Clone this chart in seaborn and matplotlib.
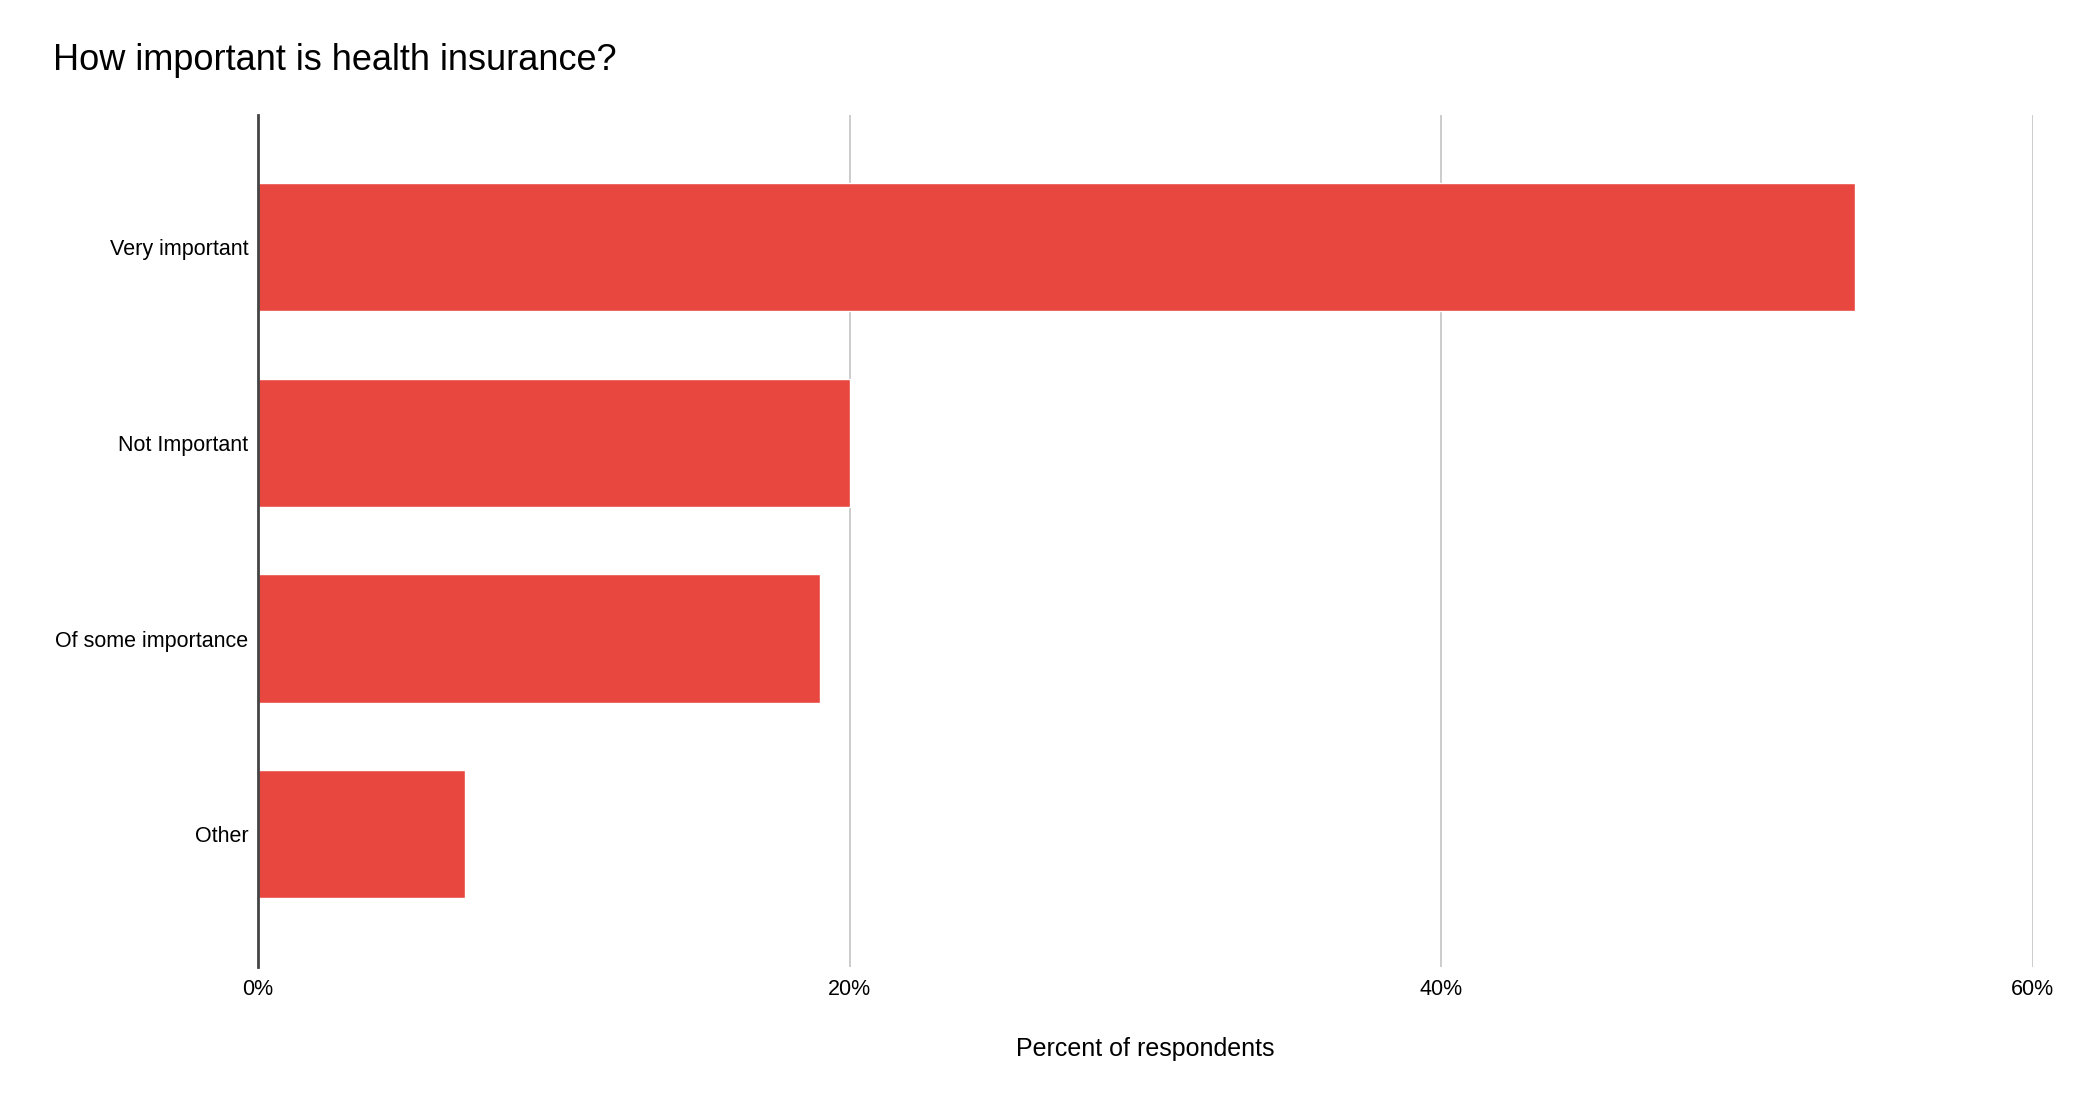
import matplotlib
matplotlib.use("Agg")
import matplotlib.pyplot as plt
import seaborn as sns
import pandas as pd
from matplotlib.ticker import FuncFormatter

categories = ["Very important", "Not Important", "Of some importance", "Other"]
percents = [54.0, 20.0, 19.0, 7.0]
x_ticks = [0, 20, 40, 60]

df = pd.DataFrame({"category": categories, "percent": percents})

sns.set_theme(style="white")
plt.rcParams['font.family'] = ['Liberation Sans', 'DejaVu Sans']

fig = plt.figure(figsize=(20.78, 11.04), dpi=100)
ax = fig.add_axes([0.1242, 0.1241, 0.9782 - 0.1242, 0.8958 - 0.1241])

sns.barplot(data=df, x="percent", y="category", color="#E8473F", saturation=1,
            width=0.655, ax=ax, zorder=3)

ax.set_xlim(0, 60)
ax.set_ylim(3.678, -0.675)
ax.set_xticks(x_ticks)
ax.xaxis.set_major_formatter(FuncFormatter(lambda v, p: f"{int(v)}%"))
ax.grid(axis="x", color="#CCCCCC", linewidth=1.4, zorder=0)
ax.grid(axis="y", visible=False)
for s in ["top", "right", "bottom"]:
    ax.spines[s].set_visible(False)
ax.spines["left"].set_color("#444444")
ax.spines["left"].set_linewidth(2)
ax.spines["left"].set_zorder(4)
ax.tick_params(axis="both", length=0, labelsize=15.5, colors="#000000")
ax.tick_params(axis="x", pad=9)
ax.tick_params(axis="y", pad=7)
ax.set_ylabel("")
ax.set_xlabel("Percent of respondents", fontsize=18, labelpad=26, color="#000000")

fig.text(53 / 2078, 1 - 60 / 1104, "How important is health insurance?",
         fontsize=26, va="center", ha="left", color="#000000")

fig.savefig("out.png", dpi=100, facecolor="white")
